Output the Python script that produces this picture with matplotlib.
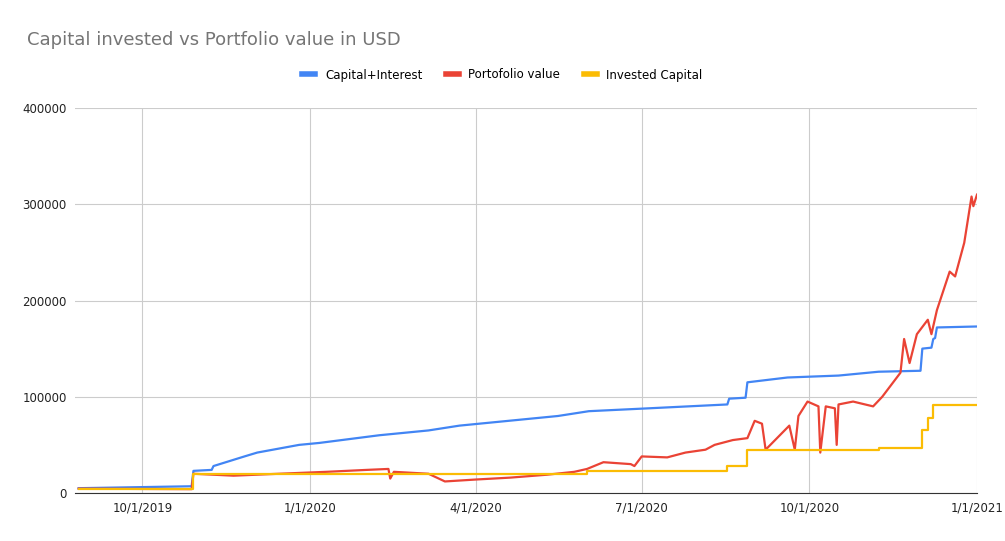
import matplotlib
matplotlib.use("Agg")
import matplotlib.pyplot as plt
import matplotlib.dates as mdates
import pandas as pd

ci_dates = ["2019-08-27","2019-10-28","2019-10-29","2019-11-08","2019-11-09","2019-11-26","2019-12-03","2019-12-26","2020-01-06","2020-02-08","2020-03-06","2020-03-23","2020-04-19","2020-05-16","2020-06-02","2020-07-05","2020-08-17","2020-08-18","2020-08-27","2020-08-28","2020-09-19","2020-10-17","2020-11-08","2020-12-01","2020-12-02","2020-12-07","2020-12-08","2020-12-09","2020-12-10","2021-01-01"]
ci_vals = [5000,7000,23000,24000,28000,38000,42000,50000,52000,60000,65000,70000,75000,80000,85000,88000,92000,98000,99000,115000,120000,122000,126000,127000,150000,151000,160000,161000,172000,173000]

ic_dates = ["2019-08-27","2019-10-28","2019-10-29","2020-06-01","2020-08-17","2020-08-28","2020-11-08","2020-12-02","2020-12-05","2020-12-08","2021-01-01"]
ic_vals = [4000,4000,20000,23000,28000,45000,47000,65000,78000,91000,91000]

pv_dates = ["2019-08-27","2019-10-28","2019-10-29","2019-11-20","2019-12-15","2020-01-10","2020-02-01","2020-02-13","2020-02-14","2020-02-16","2020-03-06","2020-03-15","2020-04-01","2020-04-20","2020-05-10","2020-05-25","2020-06-01","2020-06-10","2020-06-25","2020-06-27","2020-07-01","2020-07-15","2020-07-25","2020-08-05","2020-08-10","2020-08-20","2020-08-28","2020-09-01","2020-09-05","2020-09-07","2020-09-20","2020-09-23","2020-09-25","2020-09-30","2020-10-06","2020-10-07","2020-10-10","2020-10-15","2020-10-16","2020-10-17","2020-10-25","2020-11-05","2020-11-10","2020-11-20","2020-11-22","2020-11-25","2020-11-29","2020-12-05","2020-12-07","2020-12-10","2020-12-17","2020-12-20","2020-12-25","2020-12-29","2020-12-30","2021-01-01"]
pv_vals = [4500,4000,20000,18000,20000,22000,24000,25000,15000,22000,20000,12000,14000,16000,19000,22000,25000,32000,30000,28000,38000,37000,42000,45000,50000,55000,57000,75000,72000,45000,70000,45000,80000,95000,90000,42000,90000,88000,50000,92000,95000,90000,100000,125000,160000,135000,165000,180000,165000,190000,230000,225000,260000,308000,298000,310000]

fig = plt.figure(figsize=(10.05,5.41), dpi=100)
ax = fig.add_axes([75/1005, 48/541, 902/1005, 385/541])
ax.plot(pd.to_datetime(ci_dates), ci_vals, color="#4285F4", lw=1.6, label="Capital+Interest")
ax.plot(pd.to_datetime(pv_dates), pv_vals, color="#EA4335", lw=1.6, label="Portofolio value")
ax.step(pd.to_datetime(ic_dates), ic_vals, where="post", color="#FBBC04", lw=1.6, label="Invested Capital")
ax.set_xlim(pd.Timestamp("2019-08-25"), pd.Timestamp("2021-01-01"))
ax.set_ylim(0, 400000)
ax.set_yticks(range(0, 400001, 100000))
ax.set_xticks(pd.to_datetime(["2019-10-01","2020-01-01","2020-04-01","2020-07-01","2020-10-01","2021-01-01"]))
ax.xaxis.set_major_formatter(matplotlib.ticker.FuncFormatter(lambda v, p: (lambda d: f"{d.month}/{d.day}/{d.year}")(mdates.num2date(v))))
ax.grid(True, color="#cccccc", lw=0.8)
for s in ["top","right","left"]:
    ax.spines[s].set_visible(False)
ax.spines["bottom"].set_color("#333333")
ax.tick_params(length=0, labelsize=8.5, colors="#222222", pad=6)
fig.text(27/1005, 1-40/541, "Capital invested vs Portfolio value in USD", fontsize=13, color="#757575", va="center")
leg = fig.legend(loc="center", bbox_to_anchor=(0.5, 1-75/541), ncol=3, frameon=False, fontsize=8.5, handlelength=1.1, columnspacing=2.0)
for l in leg.get_lines():
    l.set_linewidth(4)
fig.savefig("out.png")
